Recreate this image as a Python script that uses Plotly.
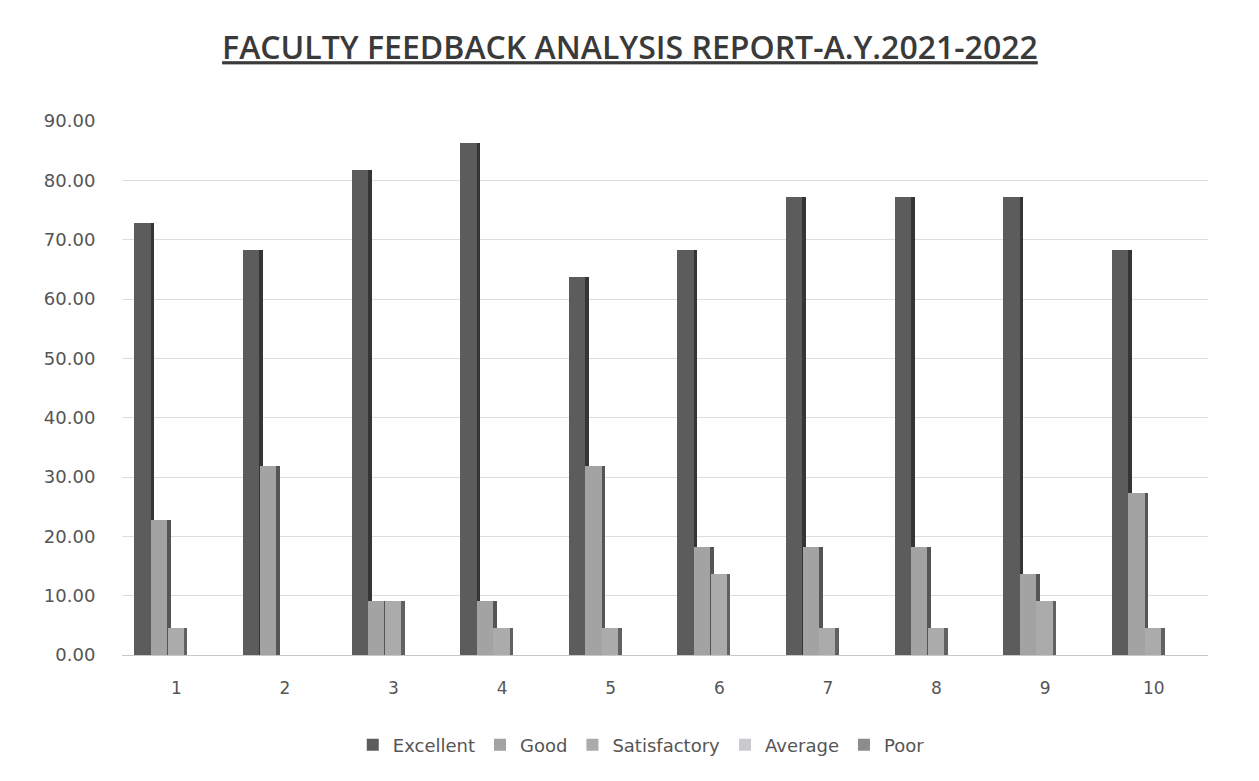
import plotly.graph_objects as go

# faculty feedback percentages per question (n = 22 respondents)
questions = ["1", "2", "3", "4", "5", "6", "7", "8", "9", "10"]
excellent = [72.73, 68.18, 81.82, 86.36, 63.64, 68.18, 77.27, 77.27, 77.27, 68.18]
good = [22.73, 31.82, 9.09, 9.09, 31.82, 18.18, 18.18, 18.18, 13.64, 27.27]
satisfactory = [4.55, 0.00, 9.09, 4.55, 4.55, 13.64, 4.55, 4.55, 9.09, 4.55]
average = [0.00, 0.00, 0.00, 0.00, 0.00, 0.00, 0.00, 0.00, 0.00, 0.00]
poor = [0.00, 0.00, 0.00, 0.00, 0.00, 0.00, 0.00, 0.00, 0.00, 0.00]

series = [
    ("Excellent", excellent, "#5c5c5c", "#353535"),
    ("Good", good, "#a3a3a3", "#555555"),
    ("Satisfactory", satisfactory, "#ababab", "#616161"),
    ("Average", average, "#c9c9ce", "#7a7a7a"),
    ("Poor", poor, "#8c8c8c", "#5a5a5a"),
]

pitch = 0.152
front_w = 0.150
side_w = 0.036
start = -0.385

fig = go.Figure()
for i, (name, vals, front, side) in enumerate(series):
    off = start + i * pitch
    # darker right face to mimic the 3-D look of the original
    fig.add_trace(go.Bar(
        x=questions, y=vals, offset=off + front_w - 0.002, width=side_w,
        marker=dict(color=side, line=dict(width=0)),
        showlegend=False, hoverinfo="skip",
    ))
    fig.add_trace(go.Bar(
        x=questions, y=vals, name=name, offset=off, width=front_w,
        marker=dict(color=front, line=dict(width=0)),
    ))

fig.update_layout(
    width=1259, height=781,
    barmode="overlay",
    paper_bgcolor="white", plot_bgcolor="white",
    margin=dict(l=114, r=59, t=113, b=134),
    font=dict(family="DejaVu Sans", color="#555555"),
    title=dict(
        text="<u>FACULTY FEEDBACK ANALYSIS REPORT-A.Y.2021-2022</u>",
        x=0.494, xref="container", xanchor="center",
        y=1 - 40 / 781, yref="container", yanchor="middle",
        font=dict(family="Open Sans", size=32, color="#3a3a3a", weight=600),
    ),
    xaxis=dict(
        type="category", showgrid=False, showline=False,
        ticks="outside", ticklen=18, tickcolor="rgba(0,0,0,0)",
        tickfont=dict(size=17, color="#555555"),
        range=[-0.5, 9.5],
    ),
    yaxis=dict(
        range=[0, 90], dtick=10, tickformat=".2f",
        showgrid=True, gridcolor="#dcdce4", gridwidth=1,
        zeroline=True, zerolinecolor="#c8c8c8", zerolinewidth=1,
        showline=False,
        ticks="outside", ticklen=22, tickcolor="rgba(0,0,0,0)",
        tickfont=dict(size=18, color="#555555"),
    ),
    legend=dict(
        orientation="h", x=0.503, xref="container", xanchor="center",
        y=1 - 737 / 781, yref="container", yanchor="middle",
        font=dict(size=18, color="#555555"),
        itemwidth=30, tracegroupgap=0,
    ),
    bargap=0,
)

fig.write_html("out.html")
